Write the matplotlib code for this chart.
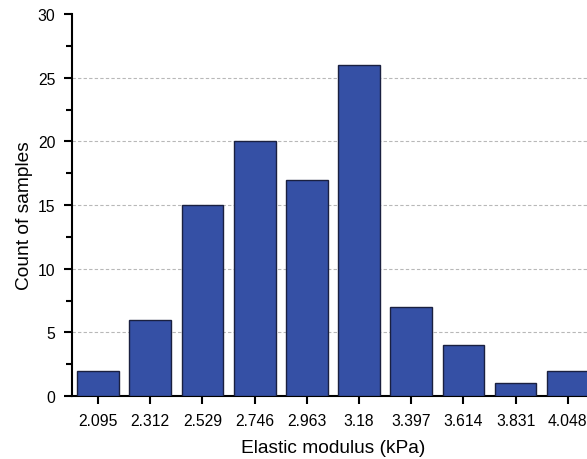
import numpy as np
import matplotlib
matplotlib.use("Agg")
import matplotlib.pyplot as plt
from matplotlib.ticker import MultipleLocator

plt.rcParams['font.family'] = ['Liberation Sans', 'DejaVu Sans']

bin_labels = ['2.095', '2.312', '2.529', '2.746', '2.963', '3.18',
              '3.397', '3.614', '3.831', '4.048']
counts = [2, 6, 15, 20, 17, 26, 7, 4, 1, 2]

fig = plt.figure(figsize=(5.87, 4.60), dpi=100)
ax = fig.add_axes([0.1227, 0.137, 0.889, 0.830])

x = np.arange(len(counts))
ax.bar(x, counts, width=0.8, color='#3550a5', edgecolor='#1a2040',
       linewidth=1.0, zorder=3)

ax.set_xlim(-0.5, len(counts) - 0.5)
ax.set_ylim(0, 30)
ax.set_xticks(x)
ax.set_xticklabels(bin_labels)
ax.yaxis.set_major_locator(MultipleLocator(5))
ax.yaxis.set_minor_locator(MultipleLocator(2.5))

# dashed reference lines at each major count
for y in range(5, 30, 5):
    ax.axhline(y, color='#b8b8b8', linestyle=(0, (3, 2)), linewidth=0.8, zorder=1)

for side in ('top', 'right'):
    ax.spines[side].set_visible(False)
ax.spines['left'].set_linewidth(1.5)
ax.spines['bottom'].set_linewidth(1.5)

ax.tick_params(axis='both', which='major', direction='out', length=6,
               width=1.5, labelsize=11.3, pad=6)
ax.tick_params(axis='y', which='minor', direction='out', length=4, width=1.5)

ax.set_xlabel('Elastic modulus (kPa)', fontsize=13.8, labelpad=8)
ax.set_ylabel('Count of samples', fontsize=13.8, labelpad=3, y=0.476)

fig.savefig('out.png', dpi=100)
